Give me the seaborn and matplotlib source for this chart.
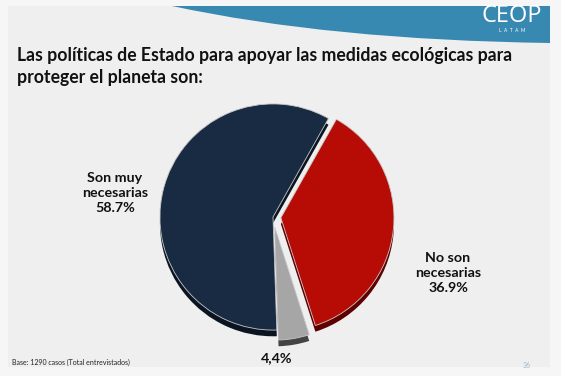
import matplotlib.pyplot as plt
import matplotlib.patches as mpatches
from matplotlib.path import Path
import numpy as np
import seaborn as sns

sns.set_theme(style="white")
plt.rcParams['font.family'] = ['Lato', 'DejaVu Sans']

# data
categories = ["Son muy\nnecesarias", "", "No son\nnecesarias"]
values = [58.7, 4.4, 36.9]
pct_labels = ["58.7%", "4,4%", "36.9%"]
colors = ["#192b43", "#a6a6a6", "#b70c06"]
shadow_colors = ["#0b1522", "#444444", "#5e0000"]
explode = [0, 0.09, 0.07]

title = "Las políticas de Estado para apoyar las medidas ecológicas para\nproteger el planeta son:"
footer = "Base: 1290 casos (Total entrevistados)"

W, H = 561, 376
fig = plt.figure(figsize=(W / 100, H / 100), dpi=100)
fig.patch.set_facecolor("#f6f6f6")


def fx(px):
    return px / W


def fy(py):
    return 1 - py / H


# slide panel
fig.patches.append(mpatches.Rectangle((fx(8), fy(367)), fx(542), (367 - 6) / H,
                                      transform=fig.transFigure, facecolor="#efefef",
                                      edgecolor="none", zorder=-2))

# blue swoosh at the top
verts = [(fx(172), fy(6)), (fx(550), fy(6)), (fx(550), fy(43)),
         (fx(330), fy(40)), (fx(172), fy(6)), (fx(172), fy(6))]
codes = [Path.MOVETO, Path.LINETO, Path.LINETO, Path.CURVE3, Path.CURVE3, Path.CLOSEPOLY]
fig.patches.append(mpatches.PathPatch(Path(verts, codes), transform=fig.transFigure,
                                      facecolor="#3889b2", edgecolor="none", zorder=-1))
fig.text(fx(512), fy(16), "CEOP", color="white", fontsize=17, ha="center", va="center",
         family=["Open Sans", "DejaVu Sans"])
fig.text(fx(512), fy(30), "L  A  T  A  M", color="white", fontsize=3.5, ha="center", va="center")

fig.text(fx(17), fy(66.5), title, fontsize=12.7, fontweight="bold", color="#111111",
         ha="left", va="center", linespacing=1.3)

# pie
ax = fig.add_axes([fx(273 - 147), (159 - 147) / H, 294 / W, 294 / H], zorder=3)
ax.pie(values, colors=shadow_colors, startangle=60.6, counterclock=True,
       explode=explode, radius=1, center=(0, -0.055),
       wedgeprops=dict(linewidth=0))
ax.pie(values, colors=colors, startangle=60.6, counterclock=True,
       explode=explode, radius=1,
       wedgeprops=dict(linewidth=0.6, edgecolor="#c8c8c8"))
ax.set_xlim(-1.3, 1.3)
ax.set_ylim(-1.3, 1.3)
ax.set_aspect("equal")
ax.axis("off")

label_pos = [(115, 193), (277, 358), (448, 273)]
for cat, pct, (px, py) in zip(categories, pct_labels, label_pos):
    txt = pct if cat == "" else cat + "\n" + pct
    fig.text(fx(px), fy(py), txt, fontsize=10.3, fontweight="bold", color="#111111",
             ha="center", va="center", linespacing=1.3, zorder=4)

fig.text(fx(12), fy(362), footer, fontsize=5, color="#222222", ha="left", va="center")
fig.text(fx(527), fy(366), "36", fontsize=5, color="#9bb8d0", ha="center", va="center")

fig.savefig("out.png", dpi=100, facecolor=fig.get_facecolor())
